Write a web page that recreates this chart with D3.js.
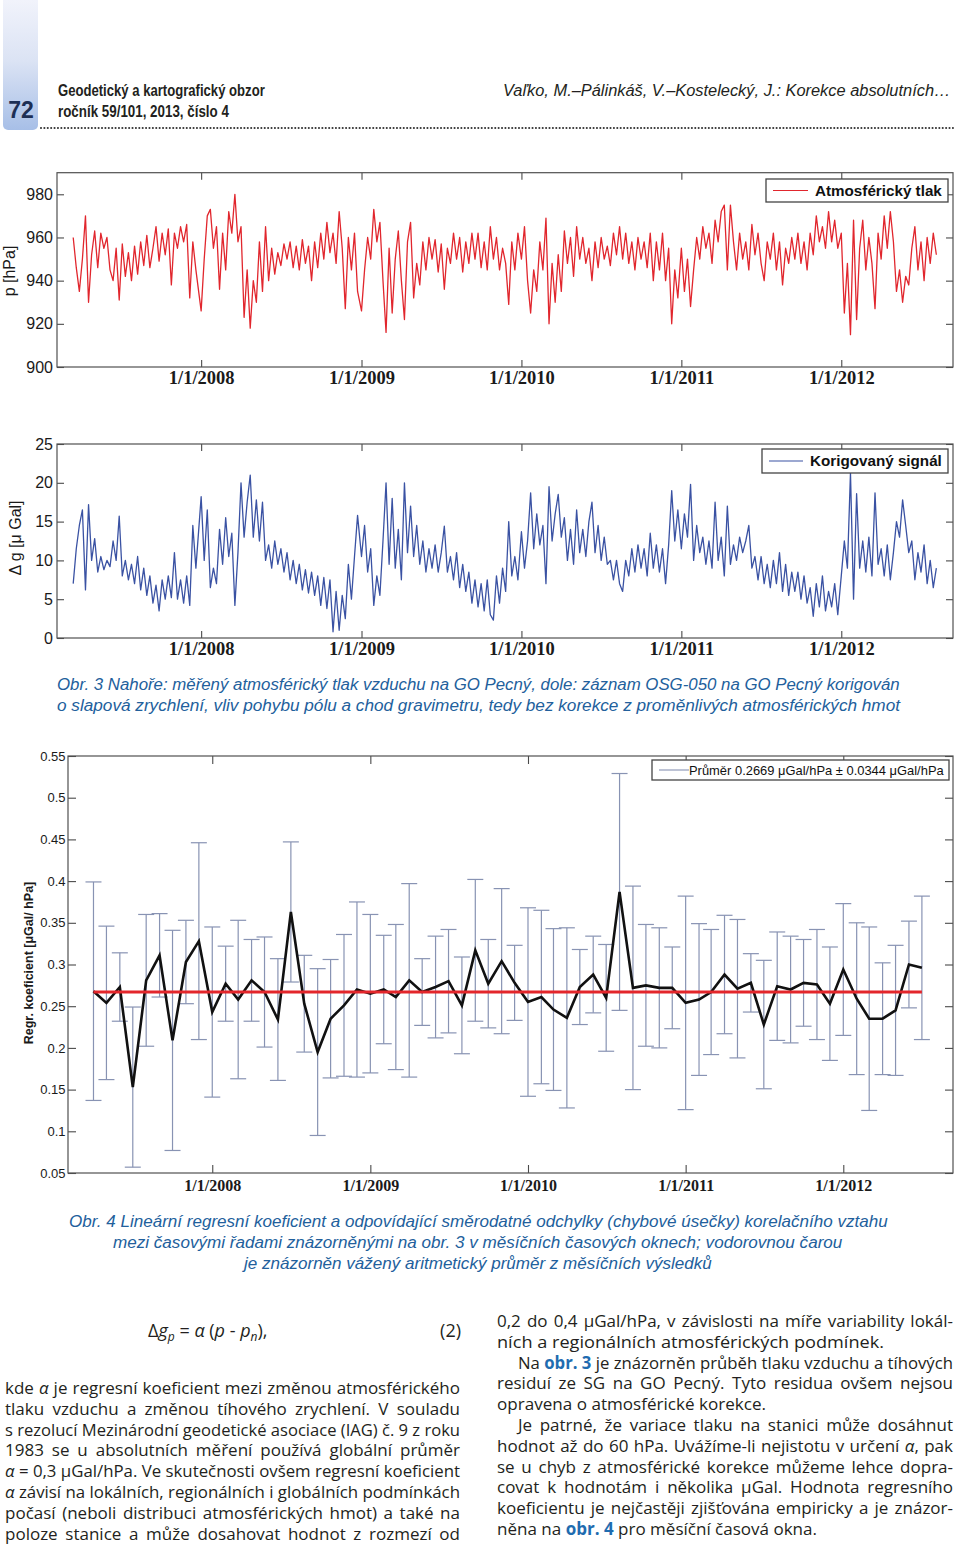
<!DOCTYPE html>
<html>
<head>
<meta charset="utf-8">
<script src="https://cdn.jsdelivr.net/npm/d3@7"></script>
<style>
html,body{margin:0;padding:0;background:#fff;}
svg{display:block;}
</style>
</head>
<body>
<script>
// ---------------- DATA ----------------
// Atmospheric pressure [hPa], weekly readings (2007 starts 15 March)
const pressure2007 = [960,946,935,950,970,930,952,963,946,962,955,960,945,940,955,931,957,942,953,940,956,943,958,947,961,946,955,965,949,962,952,964,938,962,955,965,958,966,932,958,945];
const pressure2008 = [926,950,970,973,955,965,936,962,945,972,962,980,958,965,923,945,918,940,930,958,935,965,940,955,943,953,947,957,950,958,946,956,945,959,948,956,940,958,946,962,950,967,953,962,948,972,955,927,960,945,962,935];
const pressure2009 = [926,945,960,950,973,958,967,940,916,955,925,950,963,940,922,958,967,932,948,938,958,945,960,950,959,944,957,936,955,948,962,950,960,944,958,948,962,950,962,946,958,945,965,950,960,945,955,948,929,958,945,962];
const pressure2010 = [950,965,940,925,945,935,958,945,969,920,948,930,952,935,963,948,960,942,965,950,960,948,955,940,958,946,960,950,956,947,962,952,965,950,962,948,958,945,960,950,958,946,962,940,958,945,962,940,955,920,945,932];
const pressure2011 = [955,935,950,928,945,960,950,965,955,962,948,968,958,972,975,945,975,958,945,962,950,958,945,966,952,962,948,940,958,950,962,945,958,938,955,948,960,950,962,948,958,945,962,952,970,958,965,955,972,958,968,955];
const pressure2012 = [962,925,948,915,968,922,955,968,945,960,948,927,962,950,970,955,972,958,935,945,930,942,938,955,965,945,958,940,960,948,962,952];

// Corrected gravity signal [µGal], weekly readings (2007 starts 15 March)
const gravity2007 = [7.0,11.5,14.5,16.5,6.2,17.2,10,12.8,8.5,10.5,8.8,10,9.2,12.5,10,15.7,8,10,7.5,9.5,7,10.5,6.2,9,5.5,8,4.5,6.8,3.5,7.5,5,8,5.2,11,5,7.5,4.5,8,4.2,14.5,9];
const gravity2008 = [18.2,10,16.5,6.5,9,7,14,9.5,15.5,10.5,13.5,4.2,11,20,13,17.5,21,13,17.8,12.5,17.5,10,12,9,12.5,9.5,11.5,8.5,11,7.5,10,7,9.5,6.2,8.8,5.8,8.5,5.5,8,4.2,7.8,3.8,7.5,0.8,6,1,5.5,2.5,9.5,5,10.5,15.8];
const gravity2009 = [10.5,14.5,8.5,11.5,4.2,8,5.5,12.5,20,9.5,18,9,14,7.5,20,11,17,10.5,14.5,9.5,12.5,8.5,11.5,9,12,8.5,11,14.4,8.5,10.5,7.5,11,6.5,9.5,6,8.5,4.5,7.5,4,7,3.5,7.5,3,2.3,8,4.5,9,6,15,8,10.5,7.5];
const gravity2010 = [13.7,9,12.5,18.7,11.5,16,12,14.5,7,19.5,12.5,16,18.5,13,15.5,10,14,9.5,16.5,11,14,10.5,15,17.5,11,14.5,10,13,9.5,10,7.5,10,7,6,10,8,11.5,8.5,12,9,11.5,8,13.5,9,12,8.5,11.5,7,12,19,12.5,16.5];
const gravity2011 = [11.5,16,13,19.8,10,14.5,11,13,9.5,12.5,9,17.5,10,13,8,17,9.5,12,10,13,11,12.5,14.5,9,10.5,7.5,10.5,7,9.5,6.5,10,7,11,6,9.5,5.5,8.5,6,8.5,5,8,4.5,6.5,2.8,7,4,8,3.5,6,4,7,3];
const gravity2012 = [8,12.5,9,21.3,5,18.6,9,12.5,8.5,13,8,18.7,9.5,11.5,8,12,7.5,11,15,13,17.8,14.5,11,12.5,7.5,11,8.5,12,7,10,6.5,9];

// Monthly regression coefficient [µGal/hPa] and its standard deviation (2007 starts April, 2012 ends July)
const coef2007 = [0.268,0.254,0.273,0.153,0.281,0.311,0.209,0.303,0.328];
const err2007  = [0.131,0.092,0.041,0.096,0.079,0.050,0.132,0.050,0.118];
const coef2008 = [0.243,0.277,0.258,0.281,0.267,0.234,0.363,0.253,0.195,0.235,0.251,0.270];
const err2008  = [0.102,0.045,0.095,0.049,0.066,0.073,0.084,0.058,0.100,0.071,0.085,0.105];
const coef2009 = [0.265,0.270,0.261,0.281,0.267,0.273,0.280,0.251,0.317,0.277,0.304,0.278];
const err2009  = [0.095,0.065,0.087,0.116,0.040,0.061,0.062,0.058,0.085,0.053,0.087,0.045];
const coef2010 = [0.255,0.261,0.246,0.236,0.273,0.288,0.260,0.387,0.272,0.275,0.272,0.272];
const err2010  = [0.113,0.104,0.097,0.108,0.045,0.046,0.064,0.142,0.122,0.073,0.072,0.049];
const coef2011 = [0.254,0.258,0.267,0.288,0.271,0.278,0.228,0.274,0.270,0.278,0.276,0.253];
const err2011  = [0.128,0.091,0.075,0.071,0.083,0.035,0.077,0.065,0.064,0.052,0.066,0.068];
const coef2012 = [0.294,0.259,0.235,0.235,0.245,0.300,0.296];
const err2012  = [0.079,0.091,0.110,0.067,0.078,0.052,0.086];
const weightedMean = 0.2669;

// Tick values and labels
const yearTicks = [new Date(2008,0,1), new Date(2009,0,1), new Date(2010,0,1), new Date(2011,0,1), new Date(2012,0,1)];
const yearLabels = ["1/1/2008","1/1/2009","1/1/2010","1/1/2011","1/1/2012"];
const pressureTicks = [900,920,940,960,980];
const pressureLabels = ["900","920","940","960","980"];
const gravityTicks = [0,5,10,15,20,25];
const gravityLabels = ["0","5","10","15","20","25"];
const coefTicks = [0.05,0.1,0.15,0.2,0.25,0.3,0.35,0.4,0.45,0.5,0.55];
const coefLabels = ["0.05","0.1","0.15","0.2","0.25","0.3","0.35","0.4","0.45","0.5","0.55"];

// ---------------- BUILD SERIES ----------------
const weekly = (y, m, d, vals) => vals.map((v, i) => ({date: new Date(y, m, d + 7*i), value: v}));
const pressureSeries = [].concat(
  weekly(2007,2,15,pressure2007), weekly(2008,0,1,pressure2008), weekly(2009,0,1,pressure2009),
  weekly(2010,0,1,pressure2010), weekly(2011,0,1,pressure2011), weekly(2012,0,1,pressure2012));
const gravitySeries = [].concat(
  weekly(2007,2,15,gravity2007), weekly(2008,0,1,gravity2008), weekly(2009,0,1,gravity2009),
  weekly(2010,0,1,gravity2010), weekly(2011,0,1,gravity2011), weekly(2012,0,1,gravity2012));
const monthly = (y, m0, vals, errs) => vals.map((v, i) => ({date: new Date(y, m0 + i, 1), value: v, err: errs[i]}));
const coefSeries = [].concat(
  monthly(2007,3,coef2007,err2007), monthly(2008,0,coef2008,err2008), monthly(2009,0,coef2009,err2009),
  monthly(2010,0,coef2010,err2010), monthly(2011,0,coef2011,err2011), monthly(2012,0,coef2012,err2012));

// ---------------- SVG ----------------
const svg = d3.select('body').append('svg').attr('width', 960).attr('height', 1546);
const SANS = 'Liberation Sans, Arial, Helvetica, sans-serif';
const NARROW = '"Liberation Sans Narrow", "Arial Narrow", "Liberation Sans", Arial, sans-serif';
const BODY = '"Open Sans", "Noto Sans", sans-serif';

// ---- page header ----
const defs = svg.append('defs');
const grad = defs.append('linearGradient').attr('id','sidebar').attr('x1',0).attr('y1',0).attr('x2',0).attr('y2',1);
grad.append('stop').attr('offset','0%').attr('stop-color','#f4f5fc');
grad.append('stop').attr('offset','50%').attr('stop-color','#dbe3f4');
grad.append('stop').attr('offset','100%').attr('stop-color','#a7bfe7');
svg.append('rect').attr('x',3).attr('y',-8).attr('width',35).attr('height',138).attr('rx',5).attr('fill','url(#sidebar)');
svg.append('text').attr('x',21).attr('y',118).attr('text-anchor','middle')
  .attr('font-family',NARROW).attr('font-weight','bold').attr('font-size',23).attr('fill','#1d2f55').text('72');

// text scaled horizontally (condensed look) to span exactly w pixels from x
function fitText(x, y, w, str, o) {
  const t = svg.append('text').attr('x', 0).attr('y', 0)
    .attr('font-family', o.family).attr('font-size', o.size).attr('fill', o.fill || '#231f20')
    .style('white-space','pre').text(str);
  if (o.style) t.attr('font-style', o.style);
  if (o.weight) t.attr('font-weight', o.weight);
  const w0 = t.node().getComputedTextLength();
  const sx = w ? w / w0 : 1;
  t.attr('transform', `translate(${x},${y}) scale(${sx},1)`);
  return t;
}
fitText(58, 96, 207, 'Geodetický a kartografický obzor', {family: NARROW, size: 16, weight: 'bold'});
fitText(58, 117, 171, 'ročník 59/101, 2013, číslo 4', {family: NARROW, size: 16, weight: 'bold'});
fitText(503, 96, 448, 'Vaľko, M.–Pálinkáš, V.–Kostelecký, J.: Korekce absolutních…', {family: NARROW, size: 17, style: 'italic'});
svg.append('line').attr('x1',41).attr('x2',956).attr('y1',128).attr('y2',128)
  .attr('stroke','#333').attr('stroke-width',2.1).attr('stroke-linecap','round').attr('stroke-dasharray','0.01,3.38');

// ---- axes helper ----
function drawAxes(x, y, c) {
  const [x0, x1] = x.range();
  const [yb, yt] = y.range();
  const fx = d => c.xLabels[c.xTicks.findIndex(t => +t === +d)];
  const fy = d => c.yLabels[c.yTicks.findIndex(t => Math.abs(t - d) < 1e-9)];
  const gB = svg.append('g').attr('transform', `translate(0,${yb})`)
    .call(d3.axisBottom(x).tickValues(c.xTicks).tickFormat(fx).tickSizeInner(-c.tick).tickSizeOuter(0).tickPadding(c.xPad));
  gB.selectAll('text').attr('font-family','"Liberation Serif", "Times New Roman", serif')
    .attr('font-weight','bold').attr('font-size', c.xFont).attr('fill','#1a1a1a');
  const gT = svg.append('g').attr('transform', `translate(0,${yt})`)
    .call(d3.axisTop(x).tickValues(c.xTicks).tickFormat('').tickSizeInner(-c.tick).tickSizeOuter(0));
  const gL = svg.append('g').attr('transform', `translate(${x0},0)`)
    .call(d3.axisLeft(y).tickValues(c.yTicks).tickFormat(fy).tickSizeInner(-c.tick).tickSizeOuter(0).tickPadding(c.yPad));
  gL.selectAll('text').attr('font-family', SANS).attr('font-size', c.yFont).attr('fill','#1a1a1a');
  const gR = svg.append('g').attr('transform', `translate(${x1},0)`)
    .call(d3.axisRight(y).tickValues(c.yTicks).tickFormat('').tickSizeInner(-c.tick).tickSizeOuter(0));
  [gB, gT, gL, gR].forEach(g => { g.select('.domain').remove(); g.selectAll('line').attr('stroke','#4a4a4a').attr('stroke-width',1.1); });
  svg.append('rect').attr('x', x0).attr('y', yt).attr('width', x1 - x0).attr('height', yb - yt)
    .attr('fill','none').attr('stroke','#505050').attr('stroke-width',1.2);
  svg.append('text').attr('transform', `translate(${c.labelX},${c.labelY}) rotate(-90)`)
    .attr('text-anchor','middle').attr('font-family', SANS).attr('font-size', c.labelFont)
    .attr('font-weight', c.labelWeight || 'normal').attr('fill','#1a1a1a').text(c.label);
}
function legend(bx, by, bw, bh, lineColor, lineW, text, tx, tw, o) {
  svg.append('rect').attr('x',bx).attr('y',by).attr('width',bw).attr('height',bh)
    .attr('fill','#fff').attr('stroke','#444').attr('stroke-width',1.3);
  svg.append('line').attr('x1',bx+7).attr('x2',bx+7+o.lineLen).attr('y1',by+bh/2).attr('y2',by+bh/2)
    .attr('stroke',lineColor).attr('stroke-width',lineW);
  fitText(tx, by + bh/2 + o.size*0.36, tw, text, {family: SANS, size: o.size, weight: o.weight, fill:'#111'});
}

// ---- Chart 1: pressure ----
const xP = d3.scaleTime().domain([new Date(2007,1,6), new Date(2012,8,12)]).range([57, 953]);
const yP = d3.scaleLinear().domain([900, 990]).range([367, 172.7]);
svg.append('path').datum(pressureSeries)
  .attr('d', d3.line().x(d => xP(d.date)).y(d => yP(d.value)))
  .attr('fill','none').attr('stroke','#e1262d').attr('stroke-width',1.3).attr('stroke-linejoin','round');
drawAxes(xP, yP, {xTicks: yearTicks, xLabels: yearLabels, yTicks: pressureTicks, yLabels: pressureLabels,
  tick: 7, xPad: 4, xFont: 18.5, yFont: 16, yPad: 4, label: 'p [hPa]', labelX: 15, labelY: 271, labelFont: 16});
legend(766, 179, 182, 23, '#e1262d', 1.2, 'Atmosférický tlak', 815, 127, {size: 14, weight: 'bold', lineLen: 35});

// ---- Chart 2: corrected gravity ----
const xG = d3.scaleTime().domain([new Date(2007,1,6), new Date(2012,8,12)]).range([57, 953]);
const yG = d3.scaleLinear().domain([0, 25]).range([638, 444]);
svg.append('path').datum(gravitySeries)
  .attr('d', d3.line().x(d => xG(d.date)).y(d => yG(d.value)))
  .attr('fill','none').attr('stroke','#3a52a3').attr('stroke-width',1.3).attr('stroke-linejoin','round');
drawAxes(xG, yG, {xTicks: yearTicks, xLabels: yearLabels, yTicks: gravityTicks, yLabels: gravityLabels,
  tick: 7, xPad: 4, xFont: 18.5, yFont: 16, yPad: 4, label: 'Δ g [μ Gal]', labelX: 21, labelY: 538, labelFont: 16});
legend(762, 449, 186, 24, '#3a52a3', 1.2, 'Korigovaný signál', 810, 132, {size: 14, weight: 'bold', lineLen: 34});

// Caption 1
const CAP = {family: NARROW, size: 17, style: 'italic', fill: '#22609c'};
fitText(57, 690, 843, 'Obr. 3 Nahoře: měřený atmosférický tlak vzduchu na GO Pecný, dole: záznam OSG-050 na GO Pecný korigován', CAP);
fitText(57, 711, 844, 'o slapová zrychlení, vliv pohybu pólu a chod gravimetru, tedy bez korekce z proměnlivých atmosférických hmot', CAP);

// ---- Chart 3: regression coefficient ----
const xC = d3.scaleTime().domain([new Date(2007,1,1), new Date(2012,8,11)]).range([68, 953]);
const yC = d3.scaleLinear().domain([0.05, 0.55]).range([1173, 756]);
const eb = svg.append('g').attr('stroke','#8893b3').attr('stroke-width',1.2);
coefSeries.forEach(d => {
  const cx = xC(d.date);
  eb.append('line').attr('x1',cx).attr('x2',cx).attr('y1',yC(d.value + d.err)).attr('y2',yC(d.value - d.err));
  eb.append('line').attr('x1',cx-8).attr('x2',cx+8).attr('y1',yC(d.value + d.err)).attr('y2',yC(d.value + d.err));
  eb.append('line').attr('x1',cx-8).attr('x2',cx+8).attr('y1',yC(d.value - d.err)).attr('y2',yC(d.value - d.err));
});
svg.append('path').datum(coefSeries)
  .attr('d', d3.line().x(d => xC(d.date)).y(d => yC(d.value)))
  .attr('fill','none').attr('stroke','#111').attr('stroke-width',2.6).attr('stroke-linejoin','miter');
svg.append('line')
  .attr('x1', xC(coefSeries[0].date)).attr('x2', xC(coefSeries[coefSeries.length-1].date))
  .attr('y1', yC(weightedMean)).attr('y2', yC(weightedMean))
  .attr('stroke','#e3262b').attr('stroke-width',3);
drawAxes(xC, yC, {xTicks: yearTicks, xLabels: yearLabels, yTicks: coefTicks, yLabels: coefLabels,
  tick: 8, xPad: 6.5, xFont: 16, yFont: 13, yPad: 2.5, label: 'Regr. koeficient [μGal/ hPa]', labelX: 33, labelY: 963, labelFont: 12.5, labelWeight: 'bold'});
legend(652, 760, 297, 20, '#8893b3', 1.1, 'Průměr 0.2669 μGal/hPa ± 0.0344 μGal/hPa', 689, 255, {size: 13, weight: 'normal', lineLen: 30});

// Caption 2
fitText(69, 1227, 819, 'Obr. 4 Lineární regresní koeficient a odpovídající směrodatné odchylky (chybové úsečky) korelačního vztahu', CAP);
fitText(113, 1248, 730, 'mezi časovými řadami znázorněnými na obr. 3 v měsíčních časových oknech; vodorovnou čarou', CAP);
fitText(244, 1269, 468, 'je znázorněn vážený aritmetický průměr z měsíčních výsledků', CAP);

// ---- body text ----
const BT = {family: BODY, size: 17, fill: '#231f20'};
function textLine(x0, y, width, segs, mode) {
  const t = svg.append('text').attr('x', x0).attr('y', y)
    .attr('font-family', BT.family).attr('font-size', BT.size).attr('fill', BT.fill).style('white-space','pre');
  segs.forEach(s => {
    const str = typeof s === 'string' ? s : s[0];
    const fl = typeof s === 'string' ? '' : s[1];
    const sp = t.append('tspan').text(str);
    if (fl === 'i') sp.attr('font-style','italic');
    if (fl === 'b') sp.attr('font-weight','bold').attr('fill','#1f6cb0');
  });
  const natural = t.node().getComputedTextLength();
  const full = segs.map(s => typeof s === 'string' ? s : s[0]).join('');
  const spaces = (full.match(/ /g) || []).length;
  if (mode === 'justify') {
    const diff = width - natural;
    if (diff >= 0 && spaces) t.attr('word-spacing', diff / spaces);
    else t.attr('textLength', width).attr('lengthAdjust','spacingAndGlyphs');
  } else if (mode === 'fit') {
    t.attr('textLength', width).attr('lengthAdjust','spacingAndGlyphs');
  }
}
// equation (2)
const eq = svg.append('text').attr('x',148).attr('y',1337).attr('font-family',BT.family).attr('font-size',18).attr('fill','#231f20');
eq.append('tspan').text('Δ');
eq.append('tspan').attr('font-style','italic').text('g');
eq.append('tspan').attr('font-style','italic').attr('font-size',12).attr('dy',4).text('p');
eq.append('tspan').attr('dy',-4).text(' = ');
eq.append('tspan').attr('font-style','italic').text('α');
eq.append('tspan').text(' (');
eq.append('tspan').attr('font-style','italic').text('p');
eq.append('tspan').text(' - ');
eq.append('tspan').attr('font-style','italic').text('p');
eq.append('tspan').attr('font-style','italic').attr('font-size',12).attr('dy',4).text('n');
eq.append('tspan').attr('dy',-4).text('),');
svg.append('text').attr('x',461).attr('y',1337).attr('text-anchor','end').attr('font-family',BT.family).attr('font-size',18).attr('fill','#231f20').text('(2)');

const leftLines = [
  [['kde ', ''], ['α', 'i'], [' je regresní koeficient mezi změnou atmosférického', '']],
  ['tlaku vzduchu a změnou tíhového zrychlení. V souladu'],
  ['s rezolucí Mezinárodní geodetické asociace (IAG) č. 9 z roku'],
  ['1983 se u absolutních měření používá globální průměr'],
  [['α', 'i'], [' = 0,3 μGal/hPa. Ve skutečnosti ovšem regresní koeficient', '']],
  [['α', 'i'], [' závisí na lokálních, regionálních i globálních podmínkách', '']],
  ['počasí (neboli distribuci atmosférických hmot) a také na'],
  ['poloze stanice a může dosahovat hodnot z rozmezí od']
];
leftLines.forEach((segs, i) => textLine(5, 1394 + 20.8*i, 455, segs, 'justify'));

const rightLines = [
  {segs: ['0,2 do 0,4 μGal/hPa, v závislosti na míře variability lokál-'], x: 497, w: 456, mode: 'justify'},
  {segs: ['ních a regionálních atmosférických podmínek.'], x: 497, w: 387, mode: 'fit'},
  {segs: ['Na ', ['obr. 3', 'b'], ' je znázorněn průběh tlaku vzduchu a tíhových'], x: 518, w: 435, mode: 'justify'},
  {segs: ['residuí ze SG na GO Pecný. Tyto residua ovšem nejsou'], x: 497, w: 456, mode: 'justify'},
  {segs: ['opravena o atmosférické korekce.'], x: 497, w: 269, mode: 'fit'},
  {segs: ['Je patrné, že variace tlaku na stanici může dosáhnut'], x: 518, w: 435, mode: 'justify'},
  {segs: ['hodnot až do 60 hPa. Uvážíme-li nejistotu v určení ', ['α', 'i'], ', pak'], x: 497, w: 456, mode: 'justify'},
  {segs: ['se u chyb z atmosférické korekce můžeme lehce dopra-'], x: 497, w: 456, mode: 'justify'},
  {segs: ['covat k hodnotám i několika μGal. Hodnota regresního'], x: 497, w: 456, mode: 'justify'},
  {segs: ['koeficientu je nejčastěji zjišťována empiricky a je znázor-'], x: 497, w: 456, mode: 'justify'},
  {segs: ['něna na ', ['obr. 4', 'b'], ' pro měsíční časová okna.'], x: 497, w: 320, mode: 'fit'}
];
rightLines.forEach((l, i) => textLine(l.x, 1327 + 20.8*i, l.w, l.segs, l.mode));
</script>
</body>
</html>
